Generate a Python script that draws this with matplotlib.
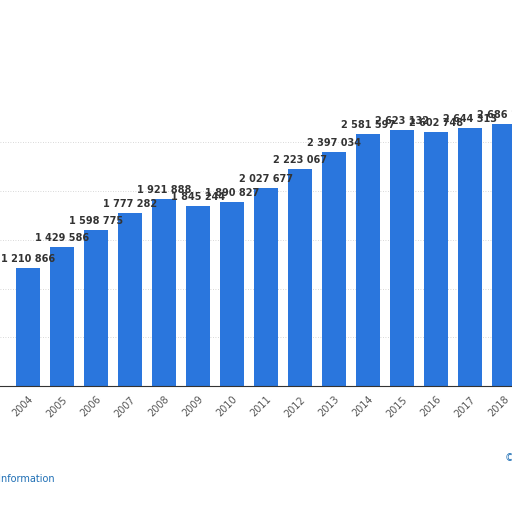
import matplotlib
matplotlib.use("Agg")
import matplotlib.pyplot as plt

years = ["2004","2005","2006","2007","2008","2009","2010","2011","2012","2013","2014","2015","2016","2017","2018"]
values = [1210866,1429586,1598775,1777282,1921888,1845244,1890827,2027677,2223067,2397034,2581597,2623132,2602748,2644313,2686150]

def fmt(v):
    return f"{v:,}".replace(",", " ")

fig = plt.figure(figsize=(5.12,5.12), dpi=100)
ax = fig.add_axes([0,0.246,1,0.754])
x = list(range(len(years)))
ax.bar(x, values, width=0.7, color="#2a76dd", zorder=2)
for i,v in zip(x, values):
    ax.text(i, v+40000, fmt(v), ha="center", va="bottom", fontsize=7, fontweight="bold", color="#333333")
ax.set_xlim(-0.82, 14.24)
ax.set_ylim(0, 3.96e6)
for g in [5e5,1e6,1.5e6,2e6,2.5e6]:
    ax.axhline(g, color="#cccccc", lw=0.6, ls=(0,(1,2)), zorder=1)
ax.set_yticks([])
ax.set_xticks(x)
ax.set_xticklabels(years, rotation=45, ha="right", rotation_mode="anchor", fontsize=7, color="#555555")
ax.tick_params(axis="x", length=0, pad=6)
for s in ["top","right","left"]:
    ax.spines[s].set_visible(False)
ax.spines["bottom"].set_color("#333333")
fig.text(-0.105, 0.058, "Additional Information", color="#1f6fb5", fontsize=7)
fig.text(0.985, 0.100, "©", color="#1f6fb5", fontsize=7)
fig.savefig("out.png", dpi=100)
